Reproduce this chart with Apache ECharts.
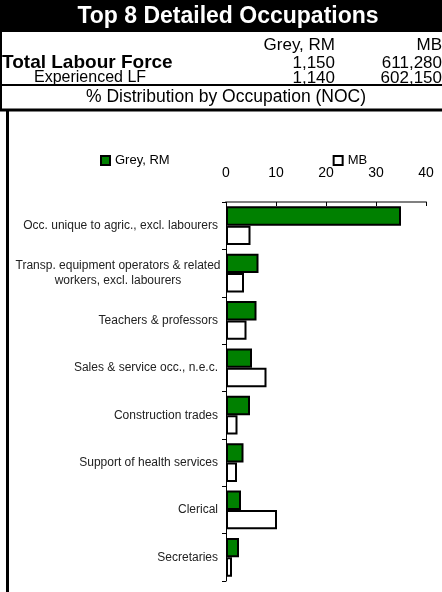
<!DOCTYPE html>
<html>
<head>
<meta charset="utf-8">
<script src="https://cdn.jsdelivr.net/npm/echarts@6/dist/echarts.min.js"></script>
<style>
  html, body { margin: 0; padding: 0; background: #fff; }
  #main { width: 442px; height: 592px; }
</style>
</head>
<body>
<div id="main"></div>
<script>
var occupations = [
    'Occ. unique to agric., excl. labourers',
    'Transp. equipment operators & related\nworkers, excl. labourers',
    'Teachers & professors',
    'Sales & service occ., n.e.c.',
    'Construction trades',
    'Support of health services',
    'Clerical',
    'Secretaries'
];
var greyRM = [35.0, 6.5, 6.1, 5.2, 4.8, 3.5, 3.0, 2.6];
var mb = [4.9, 3.6, 4.1, 8.1, 2.3, 2.2, 10.2, 1.2];
var xTicks = [0, 10, 20, 30, 40];

var tableHead = ['Grey, RM', 'MB'];
var totalLF = ['1,150', '611,280'];
var experiencedLF = ['1,140', '602,150'];

var font = 'Liberation Sans, Arial, sans-serif';

var myChart = echarts.init(document.getElementById('main'));

function txt(x, y, s, opts) {
    opts = opts || {};
    return {
        type: 'text', x: x, y: y, z: 10,
        style: {
            text: s,
            fill: opts.fill || '#000',
            font: (opts.bold ? 'bold ' : '') + (opts.size || 15) + 'px ' + font,
            textAlign: opts.align || 'left',
            textVerticalAlign: 'middle'
        }
    };
}
function line(x1, y1, x2, y2, w) {
    return {
        type: 'line', z: 10,
        shape: { x1: x1, y1: y1, x2: x2, y2: y2 },
        style: { stroke: '#000', lineWidth: w }
    };
}

var option = {
    animation: false,
    backgroundColor: '#fff',
    textStyle: { fontFamily: font },
    graphic: [
        { type: 'rect', shape: { x: 0, y: 0, width: 442, height: 32 }, style: { fill: '#000' } },
        txt(228, 17, 'Top 8 Detailed Occupations', { fill: '#fff', bold: true, size: 23, align: 'center' }),
        txt(335, 45, tableHead[0], { align: 'right', size: 17 }),
        txt(442, 45, tableHead[1], { align: 'right', size: 17 }),
        txt(2, 63, 'Total Labour Force', { bold: true, size: 19 }),
        txt(335, 63, totalLF[0], { align: 'right', size: 17 }),
        txt(442, 63, totalLF[1], { align: 'right', size: 17 }),
        txt(34, 78, 'Experienced LF', { size: 16 }),
        txt(335, 78, experiencedLF[0], { align: 'right', size: 17 }),
        txt(442, 78, experiencedLF[1], { align: 'right', size: 17 }),
        txt(226, 97, '% Distribution by Occupation (NOC)', { align: 'center', size: 17.5 }),
        line(1, 32, 1, 110, 2),
        line(0, 85, 442, 85, 2),
        line(0, 110, 442, 110, 3),
        line(7.5, 110, 7.5, 592, 3)
    ],
    legend: {
        left: 100,
        top: 154,
        padding: 0,
        itemWidth: 9,
        itemHeight: 9,
        itemGap: 163,
        icon: 'rect',
        textStyle: { fontSize: 13, color: '#000', fontFamily: font }
    },
    grid: { left: 226, right: 16, top: 202, bottom: 11 },
    xAxis: {
        type: 'value',
        position: 'top',
        min: 0,
        max: 40,
        interval: 10,
        axisLine: { show: true, lineStyle: { color: '#808080', width: 2 } },
        axisTick: { show: true, inside: true, length: 4, lineStyle: { color: '#000' } },
        axisLabel: {
            fontSize: 14, color: '#000', margin: 22,
            formatter: function (v) { return xTicks.indexOf(v) >= 0 ? String(v) : ''; }
        },
        splitLine: { show: false }
    },
    yAxis: {
        type: 'category',
        inverse: true,
        data: occupations,
        axisLine: { show: true, lineStyle: { color: '#000', width: 1 } },
        axisTick: { show: true, length: 4, lineStyle: { color: '#000' } },
        axisLabel: {
            fontSize: 12, color: '#222', margin: 8,
            formatter: function (v) {
                if (v.indexOf('\n') >= 0) {
                    var p = v.split('\n');
                    return '{c|' + p[0] + '}\n{c|' + p[1] + '}';
                }
                return v;
            },
            rich: { c: { width: 200, align: 'center', fontSize: 12, color: '#222', lineHeight: 15 } }
        }
    },
    series: [
        {
            name: 'Grey, RM',
            type: 'bar',
            data: greyRM,
            barGap: '0%',
            barCategoryGap: '18%',
            itemStyle: { color: '#008000', borderColor: '#000', borderWidth: 2 }
        },
        {
            name: 'MB',
            type: 'bar',
            data: mb,
            itemStyle: { color: '#fff', borderColor: '#000', borderWidth: 2 }
        }
    ]
};

myChart.setOption(option);
</script>
</body>
</html>
